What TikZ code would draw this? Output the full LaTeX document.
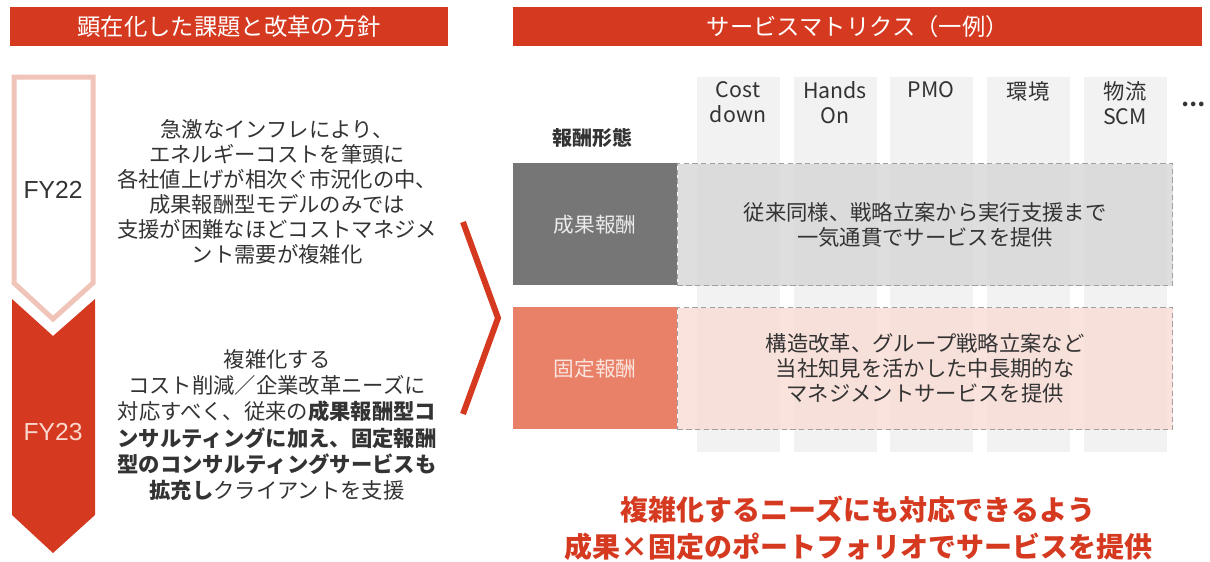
\documentclass[tikz,border=0pt]{standalone}
\usepackage{fontspec}
\setmainfont{Noto Sans CJK JP}
\newfontfamily\yearfont{Liberation Sans}
\usetikzlibrary{positioning,calc}
\definecolor{mxRed}{RGB}{213,57,32}
\definecolor{mxPale}{RGB}{240,196,184}
\definecolor{mxPaleText}{RGB}{250,214,204}
\definecolor{mxDark}{RGB}{51,51,51}
\definecolor{mxGrayBox}{RGB}{118,118,118}
\definecolor{mxColumn}{RGB}{242,242,242}
\definecolor{mxGrayFill}{RGB}{214,214,214}
\definecolor{mxSalmon}{RGB}{233,128,104}
\definecolor{mxPinkFill}{RGB}{250,218,210}
\definecolor{mxDash}{RGB}{165,160,160}
\tikzset{
    base/.style={align=center, inner sep=0pt, text=mxDark,
                 font=\fontsize{16}{18.8}\selectfont},
    header/.style={base, fill=mxRed, text=white, minimum height=29.25pt,
                   font=\fontsize{17.5}{20}\selectfont},
    yearmark/.style={base, font=\yearfont\fontsize{18.5}{20}\selectfont},
    column/.style={fill=mxColumn, minimum width=62.25pt, minimum height=281.25pt,
                   inner sep=0pt, anchor=north},
    colhead/.style={base, anchor=north, font=\fontsize{16}{18.8}\selectfont},
    fee/.style={base, minimum width=123pt, minimum height=91.5pt, anchor=north west,
                font=\fontsize{15.5}{18}\selectfont},
    service/.style={base, minimum width=371.25pt, minimum height=91.5pt,
                    anchor=north west, draw=mxDash, line width=1pt,
                    dash pattern=on 4pt off 2.5pt},
    slogan/.style={base, text=mxRed, font=\bfseries\fontsize{21}{27.75}\selectfont}
}
\begin{document}
\begin{tikzpicture}[x=0.75pt, y=-0.75pt]
  \useasboundingbox (0,0) rectangle (1210,561);

  % Headers
  \node[header, minimum width=328.5pt, anchor=north west] (hleft) at (10,7) {顕在化した課題と改革の方針};
  \node[header, minimum width=516.75pt, anchor=north west] (hright) at (513,7) {サービスマトリクス（一例）};

  % Year chevrons
  \draw[mxPale, line width=3.75pt, fill=white] (14,77) -- (93,77) -- (93,283) -- (53,319) -- (14,283) -- cycle;
  \fill[mxRed] (12,299) -- (53,336) -- (95,299) -- (95,515) -- (53,553) -- (12,515) -- cycle;
  \node[yearmark] (fy22) at (53,190) {FY22};
  \node[yearmark, text=mxPaleText] (fy23) at (53,432) {FY23};

  % Issue texts
  \node[base] (issue) at (277,192) {急激なインフレにより、\\エネルギーコストを筆頭に\\各社値上げが相次ぐ市況化の中、\\成果報酬型モデルのみでは\\支援が困難なほどコストマネジメ\\ント需要が複雑化};
  \node[base, font=\fontsize{16}{19.6}\selectfont] (policy) at (277,425) {複雑化する\\コスト削減／企業改革ニーズに\\対応すべく、従来の{\bfseries 成果報酬型コ}\\{\bfseries ンサルティングに加え、固定報酬}\\{\bfseries 型のコンサルティングサービスも}\\{\bfseries 拡充し}クライアントを支援};

  % Chevron toward matrix
  \draw[mxRed, line width=4.5pt, line join=miter] (463,222) -- (498,318) -- (463,414);

  % Matrix columns
  \foreach \cx/\lab [count=\i] in {738/{Cost\\down}, 835/{Hands\\On}, 931/PMO, 1028/環境, 1125/{物流\\SCM}} {
    \node[column] (col\i) at (\cx,77) {};
    \node[colhead] (colhead\i) at (\cx,81) {\lab};
  }
  \node[base, font=\bfseries\fontsize{16}{18}\selectfont] (more) at (1193,104) {…};
  \node[base, font=\bfseries\fontsize{15}{17}\selectfont] (form) at (592,138) {報酬形態};

  % Fee rows
  \node[fee, fill=mxGrayBox, text=white!92!black] (seika) at (513,163) {成果報酬};
  \node[service, fill=mxGrayFill, fill opacity=0.8, text opacity=1] (seikasvc) at (677,163) {従来同様、戦略立案から実行支援まで\\一気通貫でサービスを提供};
  \node[fee, fill=mxSalmon, text=mxPinkFill!70!white] (kotei) at (513,307) {固定報酬};
  \node[service, fill=mxPinkFill, fill opacity=0.75, text opacity=1] (koteisvc) at (677,307) {構造改革、グループ戦略立案など\\当社知見を活かした中長期的な\\マネジメントサービスを提供};

  % Slogan
  \node[slogan] (slogan) at (858,528) {複雑化するニーズにも対応できるよう\\成果×固定のポートフォリオでサービスを提供};
\end{tikzpicture}
\end{document}
